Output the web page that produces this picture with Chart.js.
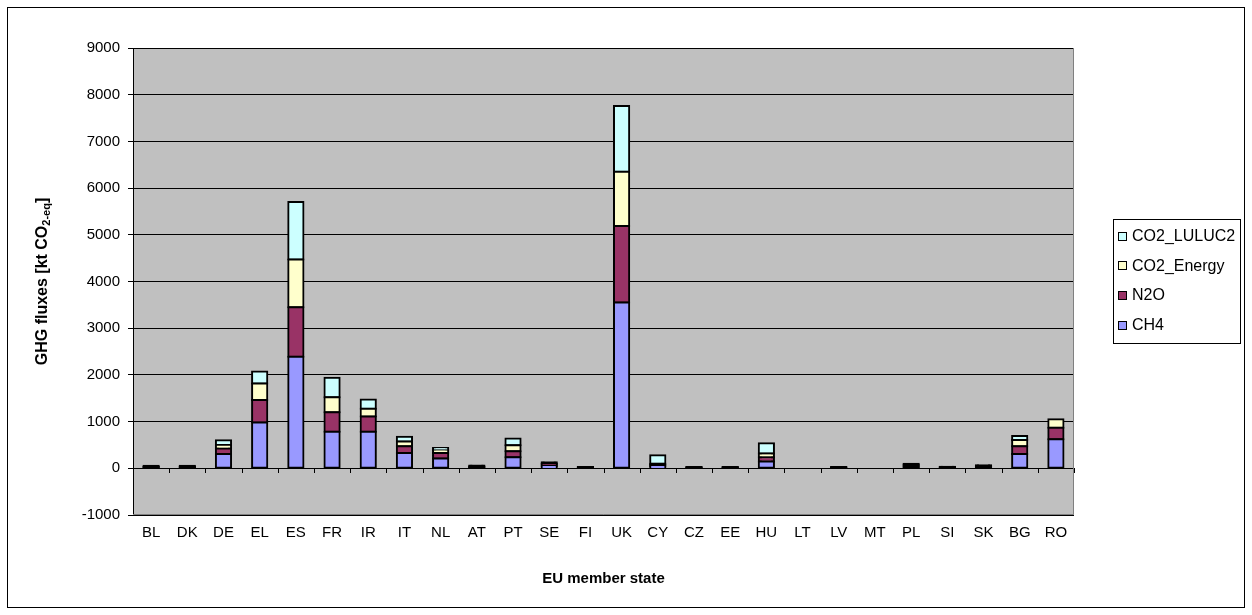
<!DOCTYPE html>
<html>
<head>
<meta charset="utf-8">
<script src="https://cdn.jsdelivr.net/npm/chart.js@4/dist/chart.umd.min.js"></script>
<style>
  body { margin: 0; background: #fff; }
  canvas { display: block; }
</style>
</head>
<body>
<canvas id="ghgChart" width="1252" height="615"></canvas>
<script>
// --- DATOS ---
const paises = ['BL','DK','DE','EL','ES','FR','IR','IT','NL','AT','PT','SE','FI','UK','CY','CZ','EE','HU','LT','LV','MT','PL','SI','SK','BG','RO'];

const ch4       = [15, 15, 305, 980, 2390, 780, 780, 330, 210, 15, 235, 50, 10, 3550, 40, 10, 10, 145, 0, 10, 0, 30, 10, 20, 305, 620];
const n2o       = [15, 15, 120, 485, 1060, 420, 330, 143, 120, 15, 130, 35, 10, 1640, 30, 10, 10, 90, 0, 10, 0, 30, 10, 20, 165, 250];
const co2Energy = [10, 10, 75, 350, 1020, 320, 165, 100, 55, 15, 128, 20, 5, 1160, 30, 5, 5, 80, 0, 5, 0, 20, 10, 15, 135, 180];
const co2Luluc  = [15, 15, 100, 257, 1230, 420, 200, 100, 50, 15, 144, 25, 5, 1410, 180, 5, 5, 220, 0, 5, 0, 20, 5, 10, 85, 0];

const yMin = -1000, yMax = 9000, yPaso = 1000;

const FUENTE = "'Liberation Sans', Arial, sans-serif";
// por debajo de este valor el tramo se ve como puro borde negro (como en Excel)
const UMBRAL_NEGRO = 35;

// --- PLUGINS ---
// fondo blanco, marco exterior y fondo gris del área de trazado
const fondo = {
    id: 'fondo',
    beforeDraw(chart) {
        const c = chart.ctx, a = chart.chartArea;
        c.save();
        c.fillStyle = '#fff';
        c.fillRect(0, 0, chart.width, chart.height);
        c.strokeStyle = '#000';
        c.lineWidth = 1;
        c.strokeRect(7.5, 7.5, chart.width - 15, chart.height - 15);
        c.fillStyle = '#c0c0c0';
        c.fillRect(a.left, a.top, a.right - a.left, a.bottom - a.top);
        c.restore();
    },
    beforeDatasetsDraw(chart) {
        // borde gris abajo y a la derecha
        const c = chart.ctx, a = chart.chartArea;
        c.save();
        c.strokeStyle = '#808080';
        c.lineWidth = 1;
        c.beginPath();
        c.moveTo(a.left, Math.round(a.bottom) - 0.5);
        c.lineTo(Math.round(a.right) - 0.5, Math.round(a.bottom) - 0.5);
        c.lineTo(Math.round(a.right) - 0.5, a.top);
        c.stroke();
        // marcas del eje de categorías sobre la línea del cero
        const x = chart.scales.x, y = chart.scales.y;
        const y0 = Math.round(y.getPixelForValue(0));
        c.strokeStyle = '#000';
        c.beginPath();
        for (let i = 0; i <= paises.length; i++) {
            const px = Math.round(x.getPixelForValue(i - 0.5)) + 0.5;
            c.moveTo(px, y0);
            c.lineTo(px, y0 + 5);
        }
        c.stroke();
        c.restore();
    }
};

// título del eje Y con subíndice
const tituloY = {
    id: 'tituloY',
    afterDraw(chart) {
        const c = chart.ctx, a = chart.chartArea;
        const grande = 'bold 16px ' + FUENTE;
        const chico = 'bold 11px ' + FUENTE;
        const partes = [
            { t: 'GHG fluxes [kt CO', f: grande, dy: 0 },
            { t: '2-eq', f: chico, dy: 4 },
            { t: ']', f: grande, dy: 0 }
        ];
        let total = 0;
        partes.forEach(p => { c.font = p.f; p.w = c.measureText(p.t).width; total += p.w; });
        c.save();
        c.translate(43, (a.top + a.bottom) / 2);
        c.rotate(-Math.PI / 2);
        c.fillStyle = '#000';
        c.textBaseline = 'middle';
        let x = -total / 2;
        partes.forEach(p => {
            c.font = p.f;
            c.fillText(p.t, x, p.dy);
            x += p.w;
        });
        c.restore();
    }
};

// leyenda con recuadro (orden inverso, como en el original)
const leyenda = {
    id: 'leyenda',
    afterDraw(chart) {
        const c = chart.ctx;
        const caja = { x: 1113.5, y: 219.5, w: 127, h: 124 };
        c.save();
        c.fillStyle = '#fff';
        c.fillRect(caja.x, caja.y, caja.w, caja.h);
        c.strokeStyle = '#000';
        c.lineWidth = 1;
        c.strokeRect(caja.x, caja.y, caja.w, caja.h);
        c.font = '16px ' + FUENTE;
        c.textBaseline = 'middle';
        const sets = chart.data.datasets.slice().reverse();
        sets.forEach((ds, i) => {
            const cy = caja.y + 17 + i * 29.7;
            c.fillStyle = ds.colorBase;
            c.fillRect(1118.5, Math.round(cy) - 4.5, 8, 8);
            c.strokeStyle = '#000';
            c.strokeRect(1118.5, Math.round(cy) - 4.5, 8, 8);
            c.fillStyle = '#000';
            c.fillText(ds.label, 1132, cy);
        });
        c.restore();
    }
};

// --- GRÁFICO ---
const ctx = document.getElementById('ghgChart').getContext('2d');
const serie = (label, data, color) => ({
    label, data,
    colorBase: color,
    backgroundColor: (c) => (Math.abs(c.raw) < UMBRAL_NEGRO ? '#000' : color),
    borderColor: '#000',
    borderWidth: 2,
    inflateAmount: 1,
    borderSkipped: false,
    barPercentage: 0.42,
    categoryPercentage: 1
});

new Chart(ctx, {
    type: 'bar',
    data: {
        labels: paises,
        datasets: [
            serie('CH4', ch4, '#9999ff'),
            serie('N2O', n2o, '#993366'),
            serie('CO2_Energy', co2Energy, '#ffffcc'),
            serie('CO2_LULUC2', co2Luluc, '#ccffff')
        ]
    },
    options: {
        responsive: false,
        animation: false,
        devicePixelRatio: 1,
        layout: { padding: { top: 48, right: 178, bottom: 0, left: 0 } },
        plugins: {
            legend: { display: false },
            tooltip: { enabled: false }
        },
        scales: {
            x: {
                stacked: true,
                grid: { display: false, drawTicks: false },
                border: { display: false },
                ticks: { color: '#000', font: { family: FUENTE, size: 15 }, padding: 9, maxRotation: 0, autoSkip: false },
                title: {
                    display: true,
                    text: 'EU member state',
                    color: '#000',
                    font: { family: FUENTE, size: 15, weight: 'bold' },
                    padding: { top: 0, bottom: 27 }
                },
                afterFit(s) { s.height = 100; }
            },
            y: {
                stacked: true,
                min: yMin,
                max: yMax,
                grid: { color: '#000', lineWidth: 1, tickLength: 5, tickColor: '#000' },
                border: { display: true, color: '#000', width: 1 },
                ticks: {
                    stepSize: yPaso, color: '#000', font: { family: FUENTE, size: 15 }, padding: 8,
                    callback: v => String(v)
                },
                afterFit(s) { s.width = 133; }
            }
        }
    },
    plugins: [fondo, tituloY, leyenda]
});
</script>
</body>
</html>
